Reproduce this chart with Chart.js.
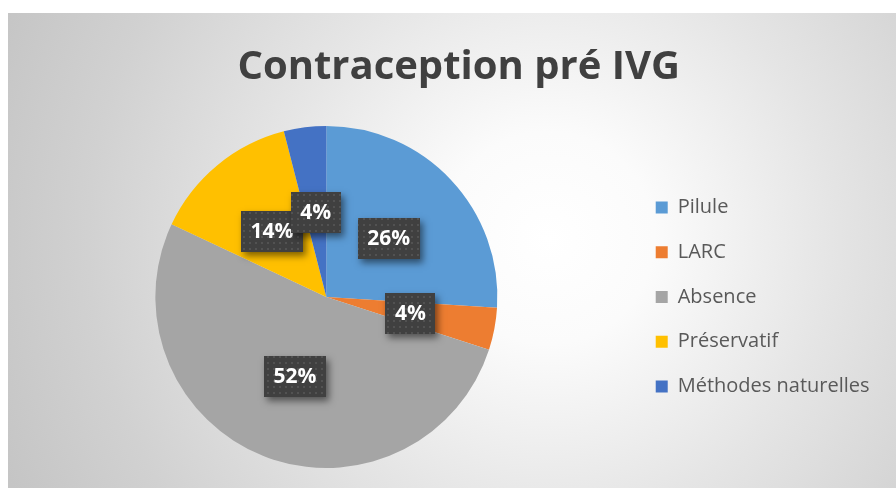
<!DOCTYPE html>
<html>
<head>
<meta charset="utf-8">
<script src="https://cdn.jsdelivr.net/npm/chart.js@4.4.1/dist/chart.umd.min.js"></script>
<style>
  html, body { margin: 0; padding: 0; background: #ffffff; width: 896px; height: 488px; overflow: hidden; }
  #wrap {
    position: absolute; left: 8px; top: 13px; width: 888px; height: 475px;
    background: radial-gradient(circle 590px at 540px 225px, #ffffff 0%, #fbfbfb 18%, #e5e5e5 48%, #d1d1d1 78%, #c5c5c5 100%);
  }
  canvas { display: block; }
</style>
</head>
<body>
<div id="wrap"><canvas id="c" width="888" height="475"></canvas></div>
<script>
// ---- data ----
const categories = ['Pilule', 'LARC', 'Absence', 'Préservatif', 'Méthodes naturelles'];
const percentages = [26, 4, 52, 14, 4];
const sliceColors = ['#5B9BD5', '#ED7D31', '#A5A5A5', '#FFC000', '#4472C4'];
const chartTitle = 'Contraception pré IVG';

// dotted pattern for the label boxes
function makePattern(ctx) {
  const t = document.createElement('canvas');
  t.width = 6; t.height = 6;
  const c = t.getContext('2d');
  c.fillStyle = '#404040';
  c.fillRect(0, 0, 6, 6);
  c.fillStyle = '#525252';
  c.fillRect(1, 1, 2, 2);
  return ctx.createPattern(t, 'repeat');
}

const labelPlugin = {
  id: 'boxLabels',
  afterLayout(chart) {
    // the title is centred on the whole chart box (which includes the legend area)
    if (chart.titleBlock) chart.titleBlock.left += 16;
  },
  afterDatasetsDraw(chart) {
    const ctx = chart.ctx;
    const meta = chart.getDatasetMeta(0);
    const values = chart.data.datasets[0].data;
    const pattern = makePattern(ctx);
    ctx.save();
    ctx.font = 'bold 21px "Open Sans"';
    ctx.textAlign = 'center';
    ctx.textBaseline = 'middle';
    meta.data.forEach((arc, i) => {
      const p = arc.tooltipPosition();
      const txt = values[i] + '%';
      const w = ctx.measureText(txt).width + 19;
      const h = 41;
      const x = Math.round(p.x - w / 2), y = Math.round(p.y - h / 2);
      ctx.save();
      ctx.shadowColor = 'rgba(0,0,0,0.5)';
      ctx.shadowBlur = 7;
      ctx.shadowOffsetX = 3;
      ctx.shadowOffsetY = 4;
      ctx.fillStyle = '#404040';
      ctx.fillRect(x, y, w, h);
      ctx.restore();
      ctx.fillStyle = pattern;
      ctx.fillRect(x, y, w, h);
      ctx.fillStyle = '#ffffff';
      ctx.fillText(txt, p.x, p.y + 1);
    });
    ctx.restore();
  }
};

new Chart(document.getElementById('c'), {
  type: 'pie',
  data: {
    labels: categories,
    datasets: [{
      data: percentages,
      backgroundColor: sliceColors,
      borderWidth: 0,
      hoverOffset: 0
    }]
  },
  options: {
    responsive: false,
    animation: false,
    devicePixelRatio: 1,
    layout: { padding: { left: 13.7, right: 16.4, top: 0, bottom: 20 } },
    plugins: {
      tooltip: { enabled: false },
      title: {
        display: true,
        text: chartTitle,
        color: '#404040',
        font: { family: 'Open Sans', size: 40, weight: 'bold' },
        padding: { top: 31, bottom: 34 }
      },
      legend: {
        position: 'right',
        fullSize: false,
        labels: {
          boxWidth: 12,
          boxHeight: 12,
          padding: 24.7,
          color: '#595959',
          font: { family: 'Open Sans', size: 20 }
        }
      }
    }
  },
  plugins: [labelPlugin]
});
</script>
</body>
</html>
